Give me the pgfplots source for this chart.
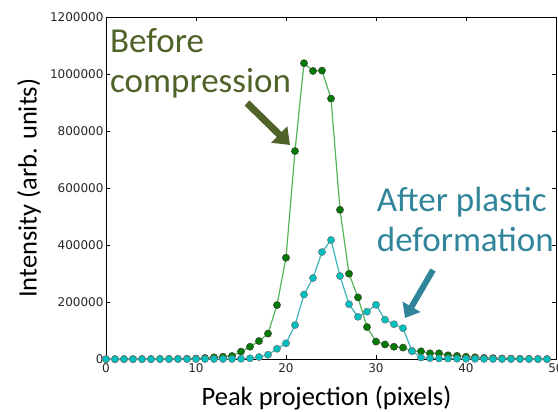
\documentclass[border=0pt]{standalone}
\usepackage{fontspec}
\setmainfont{Carlito}
\newfontfamily\dejavu{DejaVu Sans}
\usepackage{pgfplots}
\pgfplotsset{compat=1.18}
\usetikzlibrary{arrows.meta}

\definecolor{olivetxt}{RGB}{79,98,40}
\definecolor{tealtxt}{RGB}{49,133,155}
\definecolor{gline}{RGB}{85,180,85}
\definecolor{gmark}{RGB}{0,122,0}
\definecolor{cline}{RGB}{60,180,185}
\definecolor{cmark}{RGB}{0,191,191}

% before compression
\pgfplotstableread{
x y
0 500
1 600
2 700
3 800
4 900
5 1000
6 1200
7 1400
8 1600
9 2000
10 2500
11 4500
12 7000
13 9000
14 11500
15 27000
16 44000
17 64000
18 90000
19 190000
20 356000
21 730000
22 1038000
23 1011000
24 1012000
25 914000
26 524000
27 300000
28 217000
29 113000
30 62000
31 52000
32 44000
33 41000
34 29000
35 28000
36 21000
37 21000
38 14000
39 12000
40 9000
41 7000
42 5000
43 4000
44 3000
45 2500
46 2000
47 1500
48 1200
49 1000
}\beforetab

% after plastic deformation
\pgfplotstableread{
x y
0 300
1 300
2 400
3 400
4 500
5 500
6 600
7 600
8 700
9 700
10 800
11 900
12 1000
13 1100
14 1300
15 1800
16 3500
17 8000
18 16000
19 37000
20 56000
21 120000
22 227000
23 285000
24 376000
25 418000
26 292000
27 193000
28 149000
29 167000
30 191000
31 139000
32 123000
33 109000
34 29000
35 6000
36 4000
37 3000
38 2500
39 2000
40 1800
41 1500
42 1300
43 1100
44 1000
45 900
46 800
47 700
48 600
49 500
}\aftertab

\begin{document}
\begin{tikzpicture}
\begin{axis}[
  at={(106pt,52.7pt)}, anchor=south west,
  scale only axis, width=450pt, height=342.3pt,
  xmin=0, xmax=50, ymin=0, ymax=1200000,
  xtick={0,10,...,50}, ytick={0,200000,...,1200000},
  scaled y ticks=false,
  /pgf/number format/fixed,
  /pgf/number format/precision=0,
  /pgf/number format/1000 sep={},
  /pgf/number format/assume math mode=true,
  tick align=inside, major tick length=4pt,
  tick style={black, line width=0.5pt},
  axis line style={black, line width=0.8pt},
  ticklabel style={font=\dejavu\fontsize{12}{14}\selectfont, text=black!85},
  yticklabel style={xshift=1pt},
  xticklabel style={yshift=-1pt},
  xlabel={Peak projection (pixels)},
  xlabel style={font=\fontsize{26.5}{30}\selectfont, at={(axis description cs:0.49,-0.136)}, anchor=base},
  ylabel={Intensity (arb. units)},
  ylabel style={font=\fontsize{26.5}{30}\selectfont, at={(axis description cs:-0.171,0.5)}, anchor=center},
]
\addplot[gline, line width=1.2pt, mark=*, mark size=3.6pt,
  mark options={fill=gmark, draw=black!75, line width=0.5pt}] table[x=x,y=y] {\beforetab};
\addplot[cline, line width=1.2pt, mark=*, mark size=3.6pt,
  mark options={fill=cmark, draw=black!55, line width=0.5pt}] table[x=x,y=y] {\aftertab};
\end{axis}

\node[anchor=base west, inner sep=0, text=olivetxt, font=\fontsize{35}{40}\selectfont] at (110pt,359.5pt) {Before};
\node[anchor=base west, inner sep=0, text=olivetxt, font=\fontsize{35}{40}\selectfont] at (110pt,319.3pt) {compression};
\draw[olivetxt, line width=7pt, -{Triangle[length=15pt,width=22pt]}] (247pt,309pt) -- (290pt,267pt);

\node[anchor=base west, inner sep=0, text=tealtxt, font=\fontsize{35}{40}\selectfont] at (376.7pt,200.3pt) {After plastic};
\node[anchor=base west, inner sep=0, text=tealtxt, font=\fontsize{35}{40}\selectfont] at (376.7pt,160.3pt) {deformation};
\draw[tealtxt, line width=6pt, -{Triangle[length=13pt,width=20pt]}] (433pt,142pt) -- (405pt,94pt);

\pgfresetboundingbox
\useasboundingbox (0pt,0pt) rectangle (558pt,412pt);
\end{tikzpicture}
\end{document}
